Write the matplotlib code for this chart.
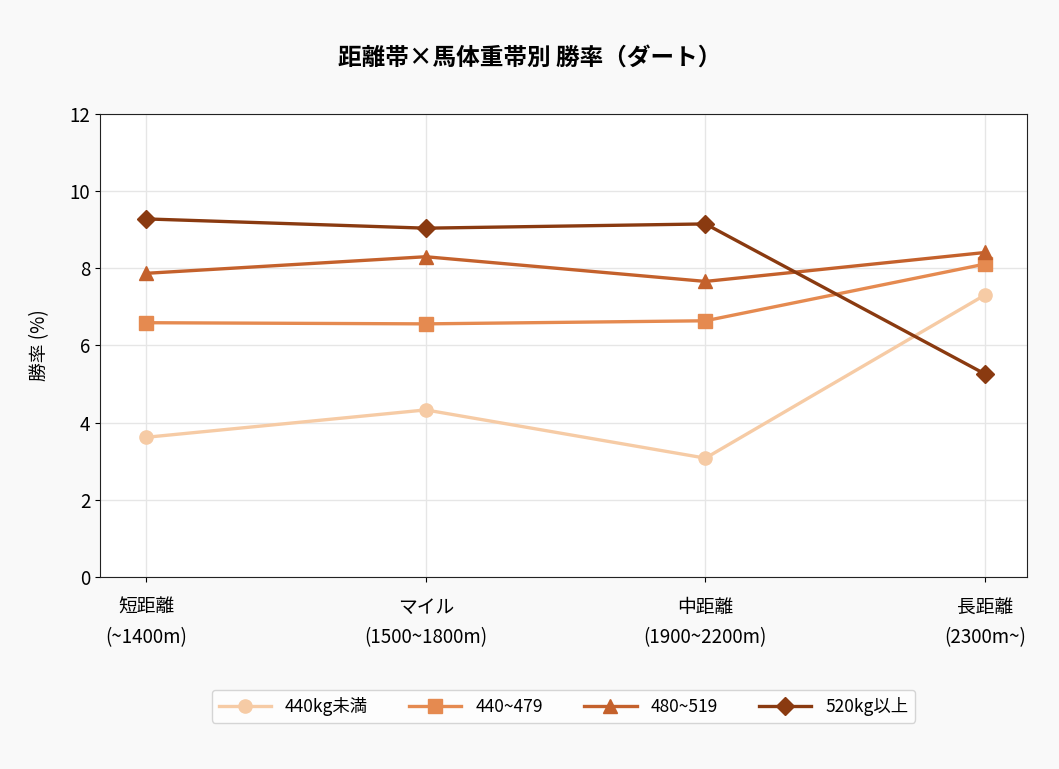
import matplotlib
matplotlib.use("Agg")
import matplotlib.pyplot as plt

plt.rcParams['font.family'] = ['Noto Sans CJK JP', 'DejaVu Sans']

categories = ["短距離\n(~1400m)", "マイル\n(1500~1800m)", "中距離\n(1900~2200m)", "長距離\n(2300m~)"]
series_names = ["440kg未満", "440~479", "480~519", "520kg以上"]
s_lt440 = [3.62, 4.33, 3.08, 7.31]
s_440 = [6.59, 6.56, 6.64, 8.11]
s_480 = [7.87, 8.30, 7.66, 8.41]
s_520 = [9.28, 9.04, 9.15, 5.26]
series = [s_lt440, s_440, s_480, s_520]
colors = ["#F6CBA5", "#E58A50", "#C4612C", "#8A3A10"]
markers = ["o", "s", "^", "D"]

fig = plt.figure(figsize=(10.59, 7.69), dpi=100, facecolor="#F9F9F9")
ax = fig.add_axes([0.0944, 0.2497, 0.8754, 0.6021])
ax.set_facecolor("white")
x = list(range(len(categories)))
for vals, name, c, m in zip(series, series_names, colors, markers):
    ax.plot(x, vals, color=c, marker=m, markersize=9.5, linewidth=2.4, label=name)

ax.set_ylim(0, 12)
ax.set_xlim(-0.165, 3.15)
ax.set_yticks([0, 2, 4, 6, 8, 10, 12])
ax.set_xticks(x)
ax.set_xticklabels(categories, fontsize=13.5, linespacing=1.55)
ax.tick_params(axis='y', labelsize=13.5)
ax.tick_params(axis='x', pad=11)
ax.grid(True, color="#E6E6E6", linewidth=1)
ax.set_axisbelow(True)
ax.set_ylabel("勝率 (%)", fontsize=13.5, labelpad=14)
for sp in ax.spines.values():
    sp.set_color("#222222")
fig.suptitle("距離帯×馬体重帯別 勝率（ダート）", fontsize=17, fontweight='bold', y=0.94)
leg = ax.legend(loc='upper center', bbox_to_anchor=(0.5, -0.225), ncol=4, fontsize=12.5,
                frameon=True, handlelength=3, columnspacing=2.4)
leg.get_frame().set_edgecolor("#CCCCCC")
fig.savefig("out.png", dpi=100, facecolor=fig.get_facecolor())
